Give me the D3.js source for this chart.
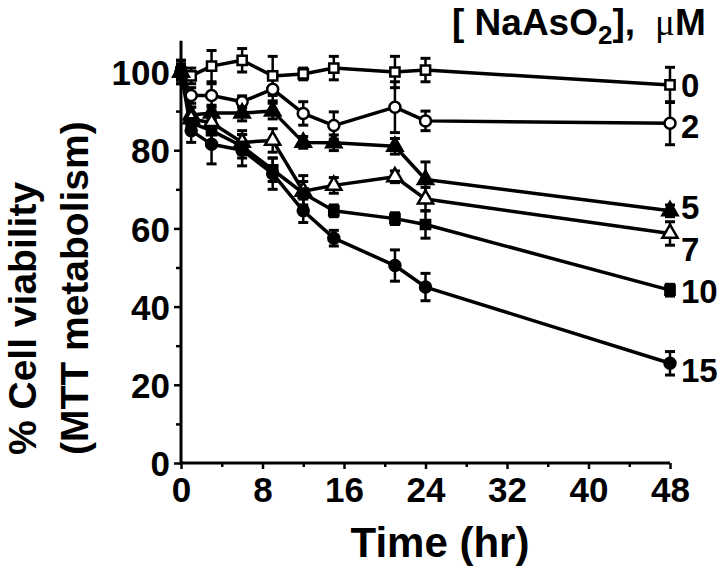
<!DOCTYPE html>
<html><head><meta charset="utf-8">
<script src="https://cdn.jsdelivr.net/npm/d3@7"></script>
<style>
html,body{margin:0;padding:0;background:#fff;}
svg{display:block;}
text{font-family:"Liberation Sans",Arial,Helvetica,sans-serif;font-weight:bold;fill:#000;}
</style></head>
<body>
<svg id="chart" width="720" height="566"></svg>
<script>
// ---- data ----
const times = [0, 1, 3, 6, 9, 12, 15, 21, 24, 48];
const concLabels = ["0", "2", "5", "7", "10", "15"];
const v0  = [100, 99, 101.5, 103, 99, 99.5, 101, 100, 100.5, 96.7];
const e0  = [3, 2, 4, 3, 5, 1.5, 3, 4, 3, 4.5];
const v2  = [100, 94, 94, 92.4, 95.6, 89.4, 86.3, 91, 87.5, 86.9];
const e2  = [3, 2, 3, 1.5, 3, 3, 3.5, 6.5, 2.5, 5.5];
const v5  = [100, 89, 89.5, 89.5, 90, 82, 81.9, 81, 72.5, 64.5];
const e5  = [2, 2, 2, 2, 2, 1.5, 2, 2, 4.5, 1.5];
const v7  = [100, 88, 87, 82, 82.5, 69.5, 71, 73.2, 67.5, 58.7];
const e7  = [2, 3, 3, 3, 3, 4, 2, 1.5, 3, 3];
const v10 = [100, 87, 85, 81, 75, 69, 64.5, 62.5, 61, 44.2];
const e10 = [2, 2, 3, 3, 3, 3, 1.5, 1.5, 3.5, 1.5];
const v15 = [100, 85, 81.5, 80, 74, 64.5, 57.5, 50.5, 45, 25.5];
const e15 = [2, 3, 5, 4, 4, 3, 2, 4, 3.5, 3];
const xTicks = [0, 8, 16, 24, 32, 40, 48];
const yTicks = [0, 20, 40, 60, 80, 100];

// ---- layout ----
const svg = d3.select("#chart");
const x = d3.scaleLinear().domain([0, 48]).range([181, 670]);
const y = d3.scaleLinear().domain([0, 100]).range([463, 72]);
const yTop = 108;

const series = [
  {label: concLabels[0], v: v0,  e: e0,  shape: "square",   fill: "#fff", dy: 12},
  {label: concLabels[1], v: v2,  e: e2,  shape: "circle",   fill: "#fff", dy: 15},
  {label: concLabels[2], v: v5,  e: e5,  shape: "triangle", fill: "#000", dy: 8},
  {label: concLabels[3], v: v7,  e: e7,  shape: "triangle", fill: "#fff", dy: 28},
  {label: concLabels[4], v: v10, e: e10, shape: "square",   fill: "#000", dy: 13},
  {label: concLabels[5], v: v15, e: e15, shape: "circle",   fill: "#000", dy: 19}
];

// axes
const gx = svg.append("g").attr("transform", `translate(0,${y(0)})`)
  .call(d3.axisBottom(x).tickValues(xTicks).tickSize(6).tickPadding(8).tickFormat(d3.format("d")));
const gxm = svg.append("g").attr("transform", `translate(0,${y(0)})`)
  .call(d3.axisBottom(x).tickValues(d3.range(4, 48, 8)).tickSize(4).tickFormat(""));
const gy = svg.append("g").attr("transform", `translate(${x(0)},0)`)
  .call(d3.axisLeft(y).tickValues(yTicks).tickSize(7).tickPadding(4).tickFormat(d3.format("d")));
const gym = svg.append("g").attr("transform", `translate(${x(0)},0)`)
  .call(d3.axisLeft(y).tickValues(d3.range(10, 101, 20)).tickSize(5).tickFormat(""));
[gx, gxm, gy, gym].forEach(g => {
  g.selectAll(".domain").remove();
  g.selectAll("line").attr("stroke", "#000").attr("stroke-width", 2.5);
});
gx.selectAll("text").attr("font-size", 35).attr("fill", "#000").style("font-family", "Liberation Sans, Arial").style("font-weight", "bold");
gy.selectAll("text").attr("font-size", 35).attr("fill", "#000").attr("dy", "0.36em").style("font-family", "Liberation Sans, Arial").style("font-weight", "bold");
svg.append("line").attr("x1", x(0)).attr("x2", x(48)).attr("y1", y(0)).attr("y2", y(0))
  .attr("stroke", "#000").attr("stroke-width", 3);
svg.append("line").attr("x1", x(0)).attr("x2", x(0)).attr("y1", y(0) + 1.5).attr("y2", y(yTop))
  .attr("stroke", "#000").attr("stroke-width", 3);

// lines
const line = d3.line().x((d, i) => x(times[i])).y(d => y(d));
series.forEach(s => {
  svg.append("path").attr("d", line(s.v)).attr("fill", "none")
    .attr("stroke", "#000").attr("stroke-width", 3.5).attr("stroke-linejoin", "round");
});
// error bars
series.forEach(s => {
  const g = svg.append("g").attr("stroke", "#000").attr("stroke-width", 2.5);
  s.v.forEach((v, i) => {
    const cx = x(times[i]);
    g.append("line").attr("x1", cx).attr("x2", cx).attr("y1", y(v - s.e[i])).attr("y2", y(v + s.e[i]));
    g.append("line").attr("x1", cx - 5).attr("x2", cx + 5).attr("y1", y(v - s.e[i])).attr("y2", y(v - s.e[i])).attr("stroke-width", 3);
    g.append("line").attr("x1", cx - 5).attr("x2", cx + 5).attr("y1", y(v + s.e[i])).attr("y2", y(v + s.e[i])).attr("stroke-width", 3);
  });
});
// markers
const sym = {square: d3.symbolSquare, circle: d3.symbolCircle, triangle: d3.symbolTriangle};
const size = {square: 85, circle: 95, triangle: 100};
series.forEach(s => {
  svg.append("g").selectAll("path").data(s.v).join("path")
    .attr("transform", (d, i) => `translate(${x(times[i])},${y(d)})`)
    .attr("d", d3.symbol().type(sym[s.shape]).size(size[s.shape]))
    .attr("fill", s.fill).attr("stroke", "#000").attr("stroke-width", 2.5);
});
// right labels
series.forEach(s => {
  svg.append("text").attr("x", x(48) + 11).attr("y", y(s.v[s.v.length - 1]) + s.dy)
    .attr("font-size", 33).text(s.label);
});

// legend title
const t = svg.append("text").attr("x", 452).attr("y", 35).attr("font-size", 37);
t.append("tspan").text("[ NaAsO");
t.append("tspan").attr("font-size", 26).attr("dy", 9).text("2");
t.append("tspan").attr("dy", -9).text("],");
t.append("tspan").attr("dx", 20).style("font-family", "Liberation Serif, Times New Roman, serif").style("font-weight", "normal").text("\u03bc");
t.append("tspan").text("M");

// axis titles
svg.append("text").attr("x", 440).attr("y", 557).attr("text-anchor", "middle").attr("font-size", 42).text("Time (hr)");
const yt = svg.append("g").attr("transform", "translate(0,455) rotate(-90)");
yt.append("text").attr("x", 0).attr("y", 36).attr("font-size", 39).text("% Cell viability");
yt.append("text").attr("x", 0).attr("y", 88).attr("font-size", 39).text("(MTT metabolism)");
</script>
</body></html>
